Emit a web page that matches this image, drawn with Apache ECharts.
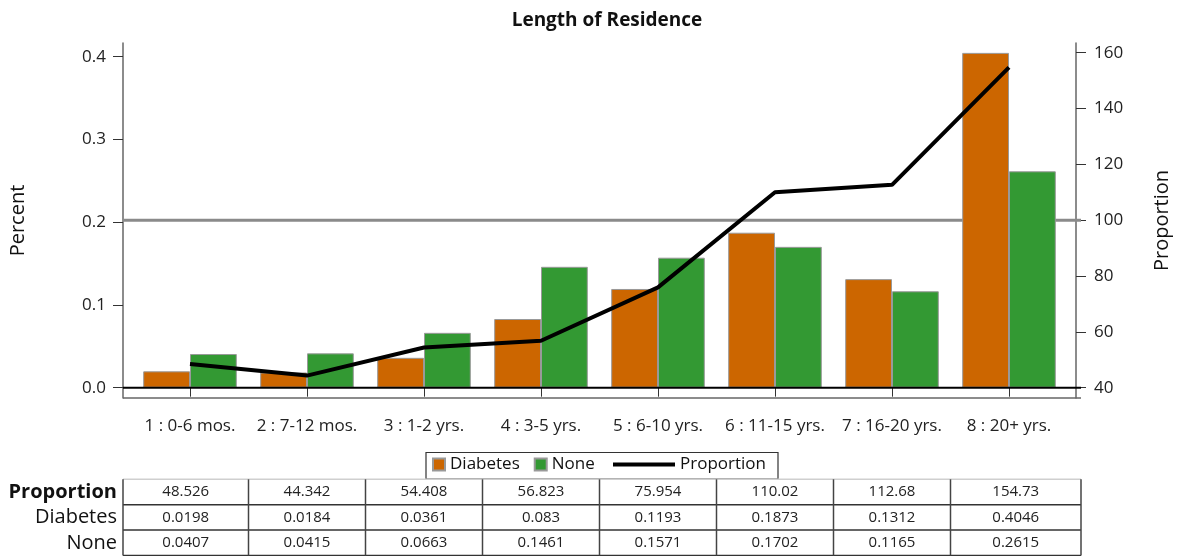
<!DOCTYPE html>
<html>
<head>
<meta charset="utf-8">
<script src="https://cdn.jsdelivr.net/npm/echarts@6/dist/echarts.min.js"></script>
<style>
html,body{margin:0;padding:0;background:#fff;}
#c{width:1180px;height:556px;}
</style>
</head>
<body>
<div id="c"></div>
<script>
var categories = ['1 : 0-6 mos.', '2 : 7-12 mos.', '3 : 1-2 yrs.', '4 : 3-5 yrs.', '5 : 6-10 yrs.', '6 : 11-15 yrs.', '7 : 16-20 yrs.', '8 : 20+ yrs.'];
var diabetes = [0.0198, 0.0184, 0.0361, 0.083, 0.1193, 0.1873, 0.1312, 0.4046];
var none = [0.0407, 0.0415, 0.0663, 0.1461, 0.1571, 0.1702, 0.1165, 0.2615];
var proportion = [48.526, 44.342, 54.408, 56.823, 75.954, 110.02, 112.68, 154.73];
var leftTicks = [0, 0.1, 0.2, 0.3, 0.4];
var rightTicks = [40, 60, 80, 100, 120, 140, 160];
var refValue = 100;

var FONT = 'Open Sans';
var GRID = {left: 131.5, right: 107.5, top: 43, bottom: 158};
var FRAME_L = 123, FRAME_R = 1081;

var chart = echarts.init(document.getElementById('c'));
chart.setOption({
  animation: false,
  textStyle: {fontFamily: FONT},
  title: {
    text: 'Length of Residence', left: 602, top: 6, textAlign: 'center',
    textStyle: {fontFamily: FONT, fontWeight: 'bold', fontSize: 19, color: '#111'}
  },
  grid: GRID,
  legend: [{
    data: ['Diabetes', 'None'], left: 432, top: 456, icon: 'rect',
    itemWidth: 12, itemHeight: 12, itemGap: 14, padding: 0,
    textStyle: {fontFamily: FONT, fontSize: 17, color: '#111'}
  }, {
    data: ['Proportion'], left: 613, top: 456, icon: 'rect',
    itemWidth: 62, itemHeight: 4, padding: 0,
    textStyle: {fontFamily: FONT, fontSize: 17, color: '#111'}
  }],
  xAxis: {
    type: 'category', data: categories,
    axisLine: {show: false},
    axisTick: {show: true, alignWithLabel: true, length: 9, lineStyle: {color: '#333', width: 1}},
    axisLabel: {fontFamily: FONT, fontSize: 17, color: '#222', margin: 20, interval: 0},
    splitLine: {show: false}
  },
  yAxis: [{
    type: 'value', min: -0.01245, max: 0.41655, offset: 8.5,
    name: 'Percent', nameLocation: 'middle', nameRotate: 90, nameGap: 95,
    nameTextStyle: {fontFamily: FONT, fontSize: 20, color: '#111'},
    axisLine: {show: true, lineStyle: {color: '#666', width: 1.5}},
    axisTick: {show: true, length: 10, customValues: leftTicks, lineStyle: {color: '#333'}},
    axisLabel: {customValues: leftTicks, fontFamily: FONT, fontSize: 17, color: '#222', margin: 17,
      formatter: function (v) { return v.toFixed(1); }},
    splitLine: {show: false}
  }, {
    type: 'value', min: 36.31, max: 163.47, offset: 8.5, position: 'right',
    name: 'Proportion', nameLocation: 'middle', nameRotate: 90, nameGap: 76,
    nameTextStyle: {fontFamily: FONT, fontSize: 20, color: '#111'},
    axisLine: {show: true, lineStyle: {color: '#666', width: 1.5}},
    axisTick: {show: true, length: 10, customValues: rightTicks, lineStyle: {color: '#333'}},
    axisLabel: {customValues: rightTicks, fontFamily: FONT, fontSize: 17, color: '#222', margin: 18},
    splitLine: {show: false}
  }],
  series: [{
    name: 'Diabetes', type: 'bar', data: diabetes, barGap: '0%', barCategoryGap: '20%',
    itemStyle: {color: '#CC6600', borderColor: '#999', borderWidth: 1}, z: 3
  }, {
    name: 'None', type: 'bar', data: none,
    itemStyle: {color: '#339933', borderColor: '#999', borderWidth: 1}, z: 3
  }, {
    name: 'Proportion', type: 'line', data: proportion, yAxisIndex: 1,
    symbol: 'none', lineStyle: {color: '#000', width: 4}, itemStyle: {color: '#000'}, z: 5
  }]
});

// Decorations derived from the library's scales
var yZero = chart.convertToPixel({yAxisIndex: 0}, 0);
var yRef = chart.convertToPixel({yAxisIndex: 1}, refValue);
var yBottom = chart.getHeight() - GRID.bottom;
var c0 = chart.convertToPixel({xAxisIndex: 0}, categories[0]);
var c1 = chart.convertToPixel({xAxisIndex: 0}, categories[1]);
var band = c1 - c0;

var g = [];
g.push({type: 'line', z: 1, shape: {x1: FRAME_L, y1: yRef, x2: FRAME_R, y2: yRef}, style: {stroke: '#8a8a8a', lineWidth: 3}});
g.push({type: 'line', z: 10, shape: {x1: FRAME_L, y1: yZero, x2: FRAME_R, y2: yZero}, style: {stroke: '#000', lineWidth: 2}});
g.push({type: 'line', z: 10, shape: {x1: FRAME_L, y1: yBottom, x2: FRAME_R, y2: yBottom}, style: {stroke: '#666', lineWidth: 1.5}});
// legend frame
g.push({type: 'rect', z: 10, shape: {x: 426, y: 452.5, width: 352, height: 26.5}, style: {fill: 'none', stroke: '#333', lineWidth: 1.2}});

// table
var rows = [
  {label: 'Proportion', vals: proportion, bold: true, size: 20},
  {label: 'Diabetes', vals: diabetes, bold: false, size: 20},
  {label: 'None', vals: none, bold: false, size: 20}
];
var tTop = 479.3, rowH = 25.4;
var tBottom = tTop + rowH * rows.length;
var bounds = [FRAME_L];
for (var i = 1; i < categories.length; i++) {
  bounds.push(chart.convertToPixel({xAxisIndex: 0}, categories[i]) - band / 2);
}
bounds.push(FRAME_R);
g.push({type: 'line', z: 10, shape: {x1: FRAME_L, y1: tTop, x2: FRAME_R, y2: tTop}, style: {stroke: '#cfcfcf', lineWidth: 1.5}});
for (var r = 1; r <= rows.length; r++) {
  var yy = tTop + rowH * r;
  g.push({type: 'line', z: 10, shape: {x1: FRAME_L, y1: yy, x2: FRAME_R, y2: yy}, style: {stroke: '#333', lineWidth: 1.5}});
}
bounds.forEach(function (bx) {
  g.push({type: 'line', z: 10, shape: {x1: bx, y1: tTop, x2: bx, y2: tBottom}, style: {stroke: '#444', lineWidth: 1.5}});
});
rows.forEach(function (row, ri) {
  var cy = tTop + rowH * ri + rowH / 2;
  g.push({type: 'text', z: 10, x: 117, y: cy, style: {text: row.label, fill: '#111', font: (row.bold ? 'bold ' : '') + row.size + 'px ' + FONT, align: 'right', verticalAlign: 'middle'}});
  row.vals.forEach(function (v, ci) {
    var cx = (bounds[ci] + bounds[ci + 1]) / 2;
    g.push({type: 'text', z: 10, x: cx, y: cy, style: {text: String(v), fill: '#222', font: '15px ' + FONT, align: 'center', verticalAlign: 'middle'}});
  });
});
chart.setOption({graphic: g});
</script>
</body>
</html>
